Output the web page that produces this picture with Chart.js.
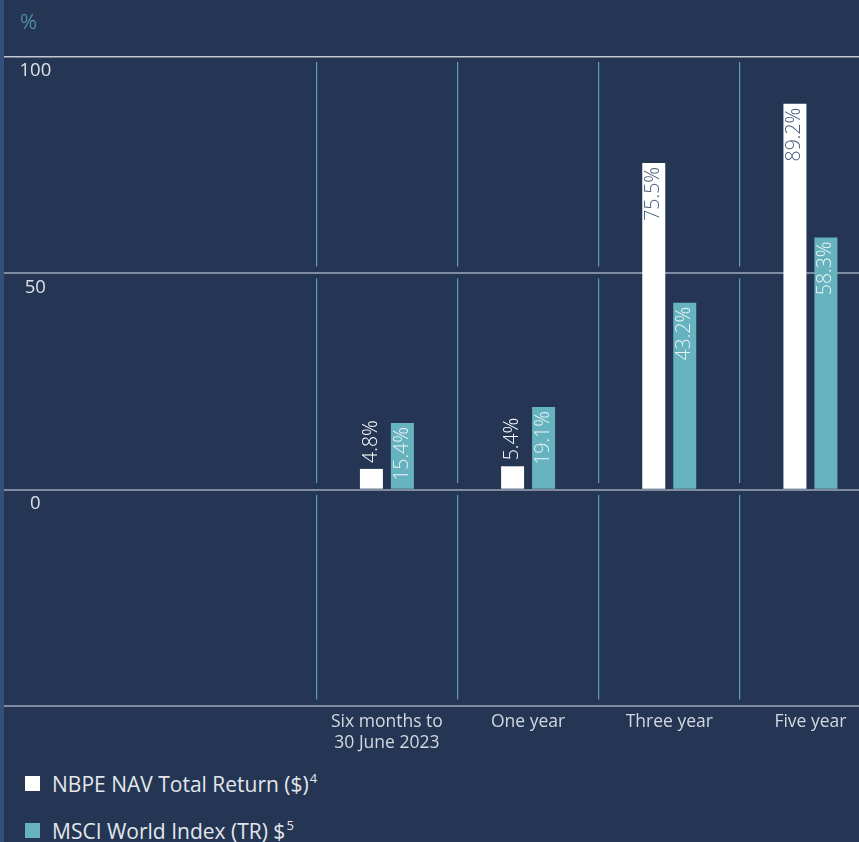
<!DOCTYPE html>
<html>
<head>
<meta charset="utf-8">
<script src="https://cdn.jsdelivr.net/npm/chart.js@4.4.1/dist/chart.umd.min.js"></script>
<style>
  html, body { margin:0; padding:0; width:859px; height:842px; overflow:hidden; background:#243654; }
  #strip { position:absolute; left:0; top:0; width:4px; height:842px; background:#34507a; }
  #wrap { position:absolute; left:4px; top:0; width:877px; height:760px; }
  #unit { position:absolute; left:20px; top:7px; color:#5fabb9; font:300 21px 'Open Sans', sans-serif; }
  #legend { position:absolute; left:25px; top:760px; font:400 21px 'Open Sans', sans-serif; color:#e3e7ec; }
  .item { display:flex; align-items:center; height:47px; white-space:nowrap; }
  .sw { width:15px; height:15px; margin-right:12px; flex:none; }
  sup { font-size:13px; vertical-align:0; position:relative; top:-9px; margin-left:1px; color:#e3e7ec; }
</style>
</head>
<body>
<div id="strip"></div>
<div id="unit">%</div>
<div id="wrap"><canvas id="c" width="877" height="760"></canvas></div>
<div id="legend"></div>
<script>
// ---- data ----
const categories = [['Six months to', '30 June 2023'], 'One year', 'Three year', 'Five year'];
const nbpeNav = [4.8, 5.4, 75.5, 89.2];
const msciWorld = [15.4, 19.1, 43.2, 58.3];
const seriesNames = ['NBPE NAV Total Return ($)', 'MSCI World Index (TR) $'];
const seriesNotes = ['4', '5'];
const yTicks = [-50, 0, 50, 100];

// two empty leading slots so the categories sit on the right side of the plot
const lead = ['', ''];
const labels = lead.concat(categories);
const pad = arr => lead.map(() => null).concat(arr);

const FONT = "'Open Sans', sans-serif";
Chart.defaults.font.family = FONT;

const valueLabels = {
  id: 'valueLabels',
  afterDatasetsDraw(chart) {
    const ctx = chart.ctx;
    chart.data.datasets.forEach((ds, di) => {
      const meta = chart.getDatasetMeta(di);
      meta.data.forEach((bar, i) => {
        const v = ds.data[i];
        if (v == null) return;
        const text = v.toFixed(1) + '%';
        ctx.save();
        ctx.font = "300 19.5px " + FONT;
        const w = ctx.measureText(text).width;
        const h = bar.base - bar.y;
        const inside = h > w + 6;
        ctx.translate(bar.x, inside ? bar.y + 4 : bar.y - 6);
        ctx.rotate(-Math.PI / 2);
        ctx.textAlign = inside ? 'right' : 'left';
        ctx.textBaseline = 'middle';
        ctx.fillStyle = inside ? ds.labelInside : '#ffffff';
        ctx.fillText(text, 0, 0);
        ctx.restore();
      });
    });
  }
};

const chart = new Chart(document.getElementById('c'), {
  type: 'bar',
  data: {
    labels: labels,
    datasets: [
      { label: seriesNames[0], data: pad(nbpeNav), backgroundColor: '#ffffff', labelInside: '#465a79' },
      { label: seriesNames[1], data: pad(msciWorld), backgroundColor: '#67b2bf', labelInside: '#e8f3f5' }
    ]
  },
  options: {
    responsive: false,
    animation: false,
    layout: { padding: { top: 57, left: 0, right: 0, bottom: 0 } },
    datasets: { bar: { barPercentage: 0.742, categoryPercentage: 0.439 } },
    plugins: { legend: { display: false }, tooltip: { enabled: false }, title: { display: false } },
    scales: {
      x: {
        afterFit: s => { s.height = 54; },
        grid: {
          offset: true,
          drawTicks: false,
          color: c => (c.index >= lead.length ? '#56a3b4' : 'rgba(0,0,0,0)'),
          lineWidth: 1.2
        },
        border: { display: false, dash: [204.5, 12], dashOffset: 211.5 },
        ticks: {
          color: '#d3d8df',
          font: { size: 17.5, weight: '400', lineHeight: 1.2 },
          padding: 6,
          maxRotation: 0,
          autoSkip: false
        }
      },
      y: {
        min: -50, max: 100,
        afterFit: s => { s.width = 30; },
        afterBuildTicks: s => { s.ticks = yTicks.map(v => ({ value: v })); },
        grid: {
          color: c => (c.tick && c.tick.value === 100 ? '#c3c8d0' : '#7f8ba0'),
          lineWidth: c => (c.tick && c.tick.value === 100 ? 1.5 : 2),
          drawTicks: true,
          tickLength: 30
        },
        border: { display: false },
        ticks: {
          mirror: true,
          crossAlign: 'center',
          padding: -14.5,
          labelOffset: 14,
          color: '#dde1e7',
          font: { size: 18.5, weight: '400' },
          callback: v => (v < 0 ? '' : String(v))
        }
      }
    }
  },
  plugins: [valueLabels]
});

// legend built from the chart's datasets
const lg = document.getElementById('legend');
chart.data.datasets.forEach((ds, i) => {
  const row = document.createElement('div');
  row.className = 'item';
  const sw = document.createElement('span');
  sw.className = 'sw';
  sw.style.background = ds.backgroundColor;
  const tx = document.createElement('span');
  tx.textContent = ds.label;
  const sp = document.createElement('sup');
  sp.textContent = seriesNotes[i];
  tx.appendChild(sp);
  row.appendChild(sw);
  row.appendChild(tx);
  lg.appendChild(row);
});
</script>
</body>
</html>
